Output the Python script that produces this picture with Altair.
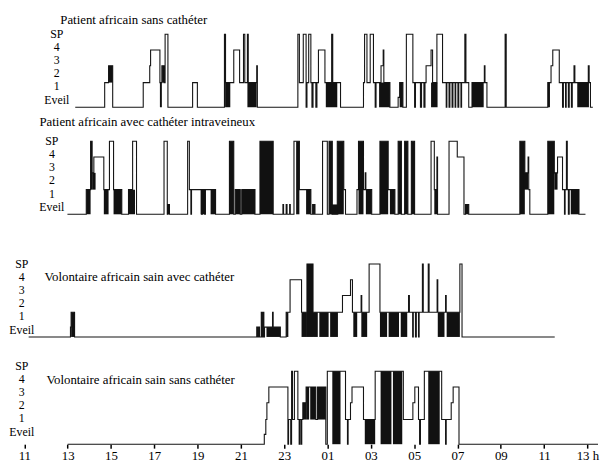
import altair as alt
import pandas as pd

FONT = "Liberation Serif, Times New Roman, DejaVu Serif, serif"

TITLES = [
    "Patient africain sans cathéter",
    "Patient africain avec cathéter intraveineux",
    "Volontaire africain sain avec cathéter",
    "Volontaire africain sain sans cathéter",
]
STAGE_LABELS = ["Eveil", "1", "2", "3", "4", "SP"]
HOUR_TICKS = list(range(11, 38))

# hypnograms: (clock hour, stage entered at that time)
P1 = [(13.35,"W"),(14.71,"1"),(14.89,"2"),(15.08,"W"),(16.49,"1"),(16.79,"2"),(16.83,"3"),
      (17.26,"1"),(17.35,"2"),(17.45,"1"),(17.50,"SP"),(17.63,"W"),(18.77,"1"),(18.99,"W"),
      (20.24,"SP"),(20.29,"1"),(20.67,"3"),(20.94,"1"),(21.12,"SP"),(21.18,"1"),(21.30,"SP"),
      (21.34,"1"),(21.73,"2"),(21.76,"W"),(23.63,"SP"),(23.70,"1"),(23.88,"SP"),(24.01,"W"),
      (24.05,"1"),(24.13,"SP"),(24.23,"1"),(24.28,"W"),(24.33,"1"),(24.46,"W"),(24.51,"1"),
      (24.58,"3"),(24.88,"1"),(25.19,"SP"),(25.24,"1"),(25.60,"W"),(26.66,"1"),(26.71,"SP"),
      (26.82,"1"),(26.97,"SP"),(27.12,"1"),(27.20,"W"),(27.24,"1"),(27.47,"2"),(27.57,"3"),
      (27.60,"1"),(27.88,"W"),(28.26,"MT"),(28.33,"1"),(28.48,"W"),(28.64,"SP"),(28.94,"1"),
      (29.02,"W"),(29.06,"1"),(29.29,"W"),(29.34,"1"),(29.45,"W"),(29.50,"1"),(29.55,"2"),
      (29.78,"3"),(29.85,"1"),(30.05,"SP"),(30.31,"1"),(30.48,"W"),(30.51,"1"),(30.61,"W"),
      (30.65,"1"),(30.75,"W"),(30.79,"1"),(30.89,"W"),(30.92,"1"),(31.02,"W"),(31.06,"1"),
      (31.16,"W"),(31.19,"1"),(31.34,"SP"),(31.39,"1"),(31.52,"W"),(31.67,"1"),(32.24,"2"),
      (32.27,"1"),(32.36,"W"),(33.20,"SP"),(33.25,"W"),(35.17,"1"),(35.32,"2"),(35.40,"3"),
      (35.70,"1"),(35.85,"W"),(35.89,"1"),(35.99,"W"),(36.02,"1"),(36.12,"W"),(36.16,"1"),
      (36.26,"W"),(36.30,"1"),(36.38,"2"),(36.42,"1"),(37.04,"2"),(37.08,"1"),(37.14,"W"),
      (37.25,"W")]

P2 = [(12.99,"W"),(13.86,"1"),(14.06,"SP"),(14.13,"2"),(14.21,"3"),(14.67,"1"),(14.93,"SP"),
      (15.12,"1"),(15.50,"W"),(15.81,"1"),(16.00,"SP"),(16.18,"W"),(17.45,"SP"),(17.60,"W"),
      (17.63,"MT"),(17.70,"W"),(18.54,"SP"),(18.62,"1"),(18.69,"W"),(18.72,"1"),(19.18,"W"),
      (19.22,"1"),(19.33,"W"),(19.36,"1"),(19.83,"W"),(20.47,"SP"),(20.67,"W"),(20.74,"1"),
      (20.97,"W"),(21.04,"1"),(21.65,"W"),(21.88,"SP"),(22.49,"W"),(22.94,"MT"),(22.97,"W"),
      (23.09,"MT"),(23.13,"W"),(23.25,"MT"),(23.28,"W"),(23.45,"SP"),(23.70,"1"),(24.23,"W"),
      (24.31,"MT"),(24.34,"W"),(24.38,"MT"),(24.42,"W"),(24.77,"SP"),(24.99,"W"),(25.07,"SP"),
      (25.22,"W"),(25.45,"SP"),(25.75,"1"),(25.83,"W"),(26.36,"1"),(26.43,"SP"),(26.66,"1"),
      (26.74,"2"),(26.77,"1"),(27.04,"W"),(27.42,"SP"),(27.80,"1"),(28.11,"W"),(28.26,"SP"),
      (28.41,"W"),(28.56,"SP"),(28.71,"W"),(28.87,"SP"),(29.02,"W"),(29.78,"SP"),(29.93,"1"),
      (30.05,"3"),(30.08,"W"),(30.61,"SP"),(30.99,"3"),(31.30,"W"),(31.37,"MT"),(31.52,"W"),
      (33.88,"SP"),(34.11,"2"),(34.26,"3"),(34.29,"1"),(34.34,"W"),(35.17,"SP"),(35.47,"2"),
      (35.62,"3"),(35.85,"1"),(35.94,"W"),(35.97,"1"),(36.03,"SP"),(36.07,"1"),(36.12,"W"),
      (36.16,"1"),(36.61,"W"),(36.91,"W")]

P3 = [(11.20,"W"),(13.13,"MT"),(13.16,"1"),(13.32,"W"),(21.73,"MT"),(21.77,"W"),(21.82,"MT"),
      (21.86,"W"),(21.94,"1"),(21.97,"W"),(22.02,"1"),(22.06,"W"),(22.09,"MT"),(22.46,"1"),
      (22.49,"MT"),(22.82,"W"),(23.09,"1"),(23.27,"3"),(23.80,"1"),(24.05,"SP"),(24.33,"1"),
      (25.69,"2"),(26.06,"3"),(26.15,"1"),(26.55,"2"),(26.58,"1"),(26.92,"SP"),(27.42,"1"),
      (28.74,"2"),(28.78,"1"),(28.93,"W"),(28.96,"1"),(29.06,"W"),(29.10,"1"),(29.20,"W"),
      (29.23,"1"),(29.38,"SP"),(29.42,"1"),(29.65,"SP"),(29.69,"1"),(30.06,"3"),(30.09,"1"),
      (30.45,"2"),(30.48,"1"),(31.11,"SP"),(31.21,"W"),(35.49,"W")]

P4 = [(13.00,"W"),(22.08,"MT"),(22.15,"1"),(22.20,"2"),(22.29,"3"),(23.17,"W"),(23.20,"1"),
      (23.30,"W"),(23.34,"SP"),(23.38,"1"),(23.47,"SP"),(23.63,"1"),(23.69,"W"),(23.72,"1"),
      (23.78,"W"),(23.81,"1"),(23.86,"2"),(24.01,"3"),(24.46,"1"),(24.54,"3"),(24.92,"W"),
      (24.99,"SP"),(25.83,"1"),(25.92,"W"),(25.95,"1"),(26.06,"2"),(26.13,"3"),(26.66,"1"),
      (27.20,"SP"),(28.50,"1"),(28.94,"2"),(29.03,"3"),(29.20,"1"),(29.25,"W"),(29.29,"1"),
      (29.47,"SP"),(30.27,"1"),(30.45,"W"),(30.48,"1"),(30.71,"2"),(30.80,"3"),(31.07,"W"),
      (37.49,"W")]

# fast alternations drawn solid black: (start, end, lower stage, upper stage)
P1_BLOCKS = [(14.89,15.08,"1","2"),(17.26,17.35,"W","1"),(17.36,17.45,"1","2"),
             (20.27,20.51,"W","1"),(21.30,21.73,"W","1"),(24.92,25.45,"W","1"),
             (27.38,27.88,"W","1"),(28.33,28.48,"W","1"),(29.78,30.08,"W","1"),
             (31.67,32.21,"W","1"),(35.17,35.27,"W","1"),(36.53,37.07,"W","1")]
P2_BLOCKS = [(13.86,14.06,"W","1"),(14.06,14.13,"1","SP"),(14.13,14.29,"1","2"),
             (14.67,14.89,"W","1"),(15.12,15.50,"W","1"),(15.81,16.11,"W","1"),
             (17.60,17.70,"W","MT"),(19.14,19.37,"W","1"),(19.60,19.83,"W","1"),
             (20.47,20.67,"W","SP"),(20.74,20.97,"W","1"),(21.04,21.65,"W","1"),
             (21.88,22.49,"W","SP"),(23.55,23.70,"W","SP"),(24.01,24.23,"W","1"),
             (25.07,25.22,"W","SP"),(25.14,25.52,"W","MT"),(25.45,25.75,"W","SP"),
             (26.43,26.66,"W","SP"),(26.77,27.04,"W","1"),(27.42,27.80,"W","SP"),
             (27.88,28.11,"W","1"),(28.26,28.41,"W","SP"),(28.56,28.71,"W","SP"),
             (28.87,29.02,"W","SP"),(29.93,30.08,"W","1"),(31.37,31.52,"W","MT"),
             (33.88,34.11,"W","SP"),(34.03,34.26,"1","2"),(35.17,35.47,"W","SP"),
             (35.47,35.62,"1","2"),(36.23,36.61,"W","1")]
P3_BLOCKS = [(13.16,13.32,"W","1"),(22.18,22.82,"W","MT"),(23.09,23.19,"W","1"),
             (23.80,24.05,"W","1"),(24.05,24.33,"W","SP"),(24.33,24.55,"W","1"),
             (24.62,25.05,"W","1"),(25.12,25.48,"W","1"),(26.19,26.37,"W","1"),
             (26.56,26.83,"W","1"),(27.42,27.75,"W","1"),(27.82,28.30,"W","1"),
             (28.38,28.68,"W","1"),(30.09,30.40,"W","1"),(30.50,31.11,"W","1")]
P4_BLOCKS = [(23.86,24.01,"1","2"),(24.01,24.15,"1","3"),(24.20,24.46,"1","3"),
             (24.54,24.92,"1","3"),(25.22,25.60,"W","SP"),(26.72,27.20,"W","1"),
             (27.45,27.95,"W","SP"),(28.02,28.45,"W","SP"),(29.65,30.18,"W","SP")]

SERIES = [P1, P2, P3, P4]
BLOCKS = [P1_BLOCKS, P2_BLOCKS, P3_BLOCKS, P4_BLOCKS]

# layout (vertical units of the shared y scale)
STAGE_H = {"W": 0, "MT": 10, "1": 25, "2": 42, "3": 58, "4": 66, "SP": 74}
LABEL_H = {"Eveil": 7.3, "1": 21, "2": 34.5, "3": 47.5, "4": 61, "SP": 74}
BASE = [341.5, 233, 108.7, 0]
LABEL_EXTRA = [0, 0, 0, 5.5]
LABEL_X = [12.50, 12.27, 10.88, 10.88]
TITLE_X = [12.66, 11.70, 11.93, 12.02]
TITLE_DY = [88.8, 93.3, 60.3, 65.3]
TOP = 439

line_rows, block_rows, label_rows, title_rows = [], [], [], []
for i, ser in enumerate(SERIES):
    for t, s in ser:
        line_rows.append({"panel": i, "t": t, "y": BASE[i] + STAGE_H[s]})
    for a, b, lo, hi in BLOCKS[i]:
        block_rows.append({"panel": i, "t0": a, "t1": b,
                           "y0": BASE[i] + STAGE_H[lo], "y1": BASE[i] + STAGE_H[hi]})
    for lab in STAGE_LABELS:
        label_rows.append({"x": LABEL_X[i], "y": BASE[i] + LABEL_EXTRA[i] + LABEL_H[lab], "label": lab})
    title_rows.append({"x": TITLE_X[i], "y": BASE[i] + TITLE_DY[i], "label": TITLES[i]})

xscale = alt.Scale(domain=[10.246, 37.49], nice=False, zero=False)
yscale = alt.Scale(domain=[0, TOP], nice=False, zero=False)

xaxis = alt.Axis(
    values=HOUR_TICKS,
    labelExpr="datum.value % 2 == 1 ? (datum.value == 37 ? '13 h' : pad(datum.value % 24, 2, '0', 'left')) : ''",
    domain=False, grid=False, title=None, ticks=True, tickSize=4, tickWidth=1.5,
    tickColor="black", labelFont=FONT, labelFontSize=13, labelColor="black",
    labelPadding=2, labelOverlap=False, labelFlush=False,
)

lines = alt.Chart(pd.DataFrame(line_rows)).mark_line(
    interpolate="step-after", strokeWidth=1.1, color="#151515"
).encode(
    x=alt.X("t:Q", scale=xscale, axis=xaxis),
    y=alt.Y("y:Q", scale=yscale, axis=None),
    detail="panel:N",
)

blocks = alt.Chart(pd.DataFrame(block_rows)).mark_rect(color="#111111").encode(
    x=alt.X("t0:Q", scale=xscale),
    x2="t1:Q",
    y=alt.Y("y0:Q", scale=yscale),
    y2="y1:Q",
)

labels = alt.Chart(pd.DataFrame(label_rows)).mark_text(
    font=FONT, fontSize=12, align="center", baseline="middle", color="black"
).encode(x=alt.X("x:Q", scale=xscale), y=alt.Y("y:Q", scale=yscale), text="label:N")

titles = alt.Chart(pd.DataFrame(title_rows)).mark_text(
    font=FONT, fontSize=13, align="left", baseline="middle", color="black"
).encode(x=alt.X("x:Q", scale=xscale), y=alt.Y("y:Q", scale=yscale), text="label:N")

chart = alt.layer(lines, blocks, labels, titles).properties(
    width=598, height=TOP, padding=0, background="white"
).configure_view(stroke=None)

chart.save("out.html", embed_options={"renderer": "svg", "actions": False})
